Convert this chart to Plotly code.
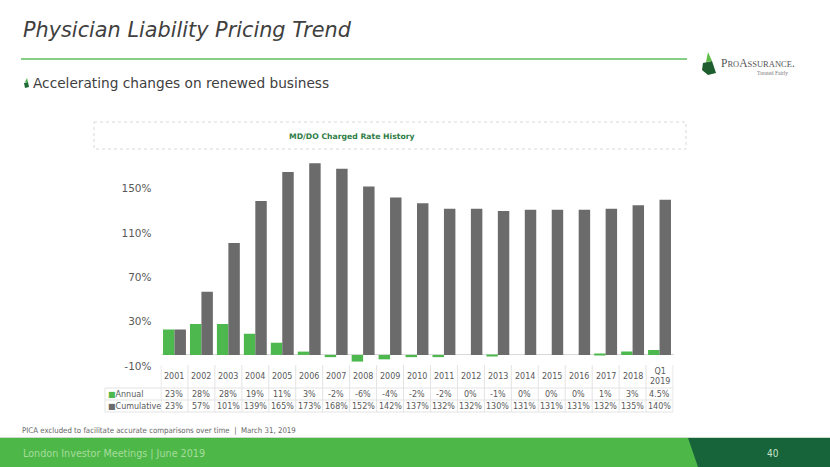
import plotly.graph_objects as go

W, H = 830, 467

categories = ["2001", "2002", "2003", "2004", "2005", "2006", "2007", "2008", "2009", "2010",
              "2011", "2012", "2013", "2014", "2015", "2016", "2017", "2018", "Q1 2019"]
annual = [23, 28, 28, 19, 11, 3, -2, -6, -4, -2, -2, 0, -1, 0, 0, 0, 1, 3, 4.5]
cumulative = [23, 57, 101, 139, 165, 173, 168, 152, 142, 137, 132, 132, 130, 131, 131, 131, 132, 135, 140]
annual_labels = ["23%", "28%", "28%", "19%", "11%", "3%", "-2%", "-6%", "-4%", "-2%",
                 "-2%", "0%", "-1%", "0%", "0%", "0%", "1%", "3%", "4.5%"]
cumulative_labels = ["23%", "57%", "101%", "139%", "165%", "173%", "168%", "152%", "142%", "137%",
                     "132%", "132%", "130%", "131%", "131%", "131%", "132%", "135%", "140%"]
y_ticks = [-10, 30, 70, 110, 150]
y_tick_labels = ["-10%", "30%", "70%", "110%", "150%"]

GREEN = "#4DB84D"
GRAY = "#6B6B6B"
FONT = "DejaVu Sans"
NARROW = "Liberation Sans Narrow, DejaVu Sans Condensed"


def px(x):
    return x / W


def py(y):
    return 1 - y / H


fig = go.Figure()
fig.add_trace(go.Bar(name="Annual", x=categories, y=annual, marker_color=GREEN, marker_line_width=0))
fig.add_trace(go.Bar(name="Cumulative", x=categories, y=cumulative, marker_color=GRAY, marker_line_width=0))

shapes = []
annotations = []

# Title
annotations.append(dict(x=px(21), y=py(30), xref="paper", yref="paper", xanchor="left", yanchor="middle",
                        text="<i>Physician Liability Pricing Trend</i>", showarrow=False,
                        font=dict(family=FONT, size=20.8, color="#404040")))
shapes.append(dict(type="line", xref="paper", yref="paper", x0=px(21), x1=px(687), y0=py(59), y1=py(59),
                   line=dict(color="#5CBF5C", width=1.5)))
# subtitle
annotations.append(dict(x=px(31), y=py(83), xref="paper", yref="paper", xanchor="left", yanchor="middle",
                        text="Accelerating changes on renewed business", showarrow=False,
                        font=dict(family=FONT, size=13.7, color="#404040")))
# bullet leaf
shapes.append(dict(type="path", xref="paper", yref="paper",
                   path=f"M {px(24)},{py(83)} L {px(28)},{py(82)} L {px(29)},{py(87)} L {px(25)},{py(88)} Z",
                   fillcolor="#1E6B35", line=dict(width=0)))
shapes.append(dict(type="path", xref="paper", yref="paper",
                   path=f"M {px(25)},{py(82)} L {px(27)},{py(78)} L {px(28)},{py(82)} Z",
                   fillcolor=GREEN, line=dict(width=0)))

# Logo
shapes.append(dict(type="path", xref="paper", yref="paper",
                   path=(f"M {px(703)},{py(63)} L {px(712)},{py(61)} L {px(716)},{py(73)} "
                         f"L {px(708)},{py(75)} L {px(702)},{py(70)} Z"),
                   fillcolor="#1E5E2E", line=dict(width=0)))
shapes.append(dict(type="path", xref="paper", yref="paper",
                   path=f"M {px(706)},{py(62)} L {px(708)},{py(52)} L {px(712)},{py(61)} Z",
                   fillcolor="#5DBB46", line=dict(width=0)))
annotations.append(dict(x=px(719), y=py(63), xref="paper", yref="paper", xanchor="left", yanchor="middle",
                        text="P<span style='font-size:8.5px'>RO</span>A<span style='font-size:8.5px'>SSURANCE</span>.",
                        showarrow=False, font=dict(family="Liberation Serif", size=11.5, color="#555555")))
annotations.append(dict(x=px(790), y=py(73), xref="paper", yref="paper", xanchor="right", yanchor="middle",
                        text="Treated Fairly", showarrow=False,
                        font=dict(family="Liberation Serif", size=5.5, color="#777777")))

# chart title box
shapes.append(dict(type="rect", xref="paper", yref="paper", x0=px(94), x1=px(686), y0=py(122), y1=py(149),
                   line=dict(color="#D9D9D9", width=1, dash="dot"), fillcolor="rgba(0,0,0,0)"))
annotations.append(dict(x=px(352), y=py(136), xref="paper", yref="paper", xanchor="center", yanchor="middle",
                        text="<b>MD/DO Charged Rate History</b>", showarrow=False,
                        font=dict(family=FONT, size=7.7, color="#2E7D46")))

# Data table
n = len(categories)
GRID = "#E3E3E3"
y_top, y_h, y_a, y_c = 365, 388, 400, 412
for i in range(n + 1):
    shapes.append(dict(type="line", xref="x", yref="paper", x0=i - 0.5, x1=i - 0.5, y0=py(y_top), y1=py(y_c),
                       line=dict(color=GRID, width=1)))
shapes.append(dict(type="line", xref="paper", yref="paper", x0=px(105), x1=px(105), y0=py(y_h), y1=py(y_c),
                   line=dict(color=GRID, width=1)))
for yy in (y_h, y_a, y_c):
    shapes.append(dict(type="line", xref="paper", yref="paper", x0=px(105), x1=px(160.5), y0=py(yy), y1=py(yy),
                       line=dict(color=GRID, width=1)))
    shapes.append(dict(type="line", xref="x", yref="paper", x0=-0.5, x1=n - 0.5, y0=py(yy), y1=py(yy),
                       line=dict(color=GRID, width=1)))

tfont = dict(family=FONT, size=8, color="#595959")
for i, c in enumerate(categories):
    label = c.replace(" ", "<br>")
    annotations.append(dict(x=i, y=py(376.5), xref="x", yref="paper", text=label, showarrow=False,
                            xanchor="center", yanchor="middle", font=tfont))
    annotations.append(dict(x=i, y=py(394), xref="x", yref="paper", text=annual_labels[i], showarrow=False,
                            xanchor="center", yanchor="middle", font=tfont))
    annotations.append(dict(x=i, y=py(406), xref="x", yref="paper", text=cumulative_labels[i], showarrow=False,
                            xanchor="center", yanchor="middle", font=tfont))
annotations.append(dict(x=px(106), y=py(394), xref="paper", yref="paper", xanchor="left", yanchor="middle",
                        text=f"<span style='color:{GREEN}'>■</span>Annual", showarrow=False, font=tfont))
annotations.append(dict(x=px(106), y=py(406), xref="paper", yref="paper", xanchor="left", yanchor="middle",
                        text=f"<span style='color:{GRAY}'>■</span>Cumulative", showarrow=False, font=tfont))

# note
annotations.append(dict(x=px(20), y=py(430), xref="paper", yref="paper", xanchor="left", yanchor="middle",
                        text="PICA excluded to facilitate accurate comparisons over time  |  March 31, 2019",
                        showarrow=False, font=dict(family=NARROW, size=7.8, color="#666666")))

# footer band
shapes.append(dict(type="line", xref="paper", yref="paper", x0=0, x1=1, y0=py(437.5), y1=py(437.5),
                   line=dict(color="#C9DCC9", width=1)))
shapes.append(dict(type="rect", xref="paper", yref="paper", x0=0, x1=1, y0=py(438), y1=py(467),
                   fillcolor="#4DB848", line=dict(width=0)))
shapes.append(dict(type="path", xref="paper", yref="paper",
                   path=f"M {px(688)},{py(438)} L 1,{py(438)} L 1,{py(467)} L {px(698)},{py(467)} Z",
                   fillcolor="#17643A", line=dict(width=0)))
annotations.append(dict(x=px(21), y=py(453), xref="paper", yref="paper", xanchor="left", yanchor="middle",
                        text="London Investor Meetings | June 2019", showarrow=False,
                        font=dict(family=NARROW, size=10.7, color="#A6DC9C")))
annotations.append(dict(x=px(773), y=py(453), xref="paper", yref="paper", xanchor="center", yanchor="middle",
                        text="40", showarrow=False,
                        font=dict(family=NARROW, size=10, color="#C9E3CC")))

fig.update_layout(
    width=W, height=H,
    margin=dict(l=0, r=0, t=0, b=0, pad=0, autoexpand=False),
    paper_bgcolor="white", plot_bgcolor="white",
    barmode="group", bargap=0.15, bargroupgap=0,
    showlegend=False,
    shapes=shapes, annotations=annotations,
    xaxis=dict(type="category", domain=[px(160.5), px(673.5)], showticklabels=False, showgrid=False,
               zeroline=False, showline=False, ticks="", fixedrange=True, automargin=False),
    yaxis=dict(domain=[py(366), py(155.5)], range=[-10, 180], tickvals=y_ticks, ticktext=y_tick_labels,
               showgrid=False, zeroline=True, zerolinecolor="#D9D9D9", zerolinewidth=1,
               showline=False, ticks="", ticklabelstandoff=8, fixedrange=True, automargin=False,
               tickfont=dict(family=FONT, size=10.5, color="#595959")),
)

post = "document.body.style.margin='0px';document.body.style.overflow='hidden';"
fig.write_html("out.html", config={"displayModeBar": False}, post_script=post)
